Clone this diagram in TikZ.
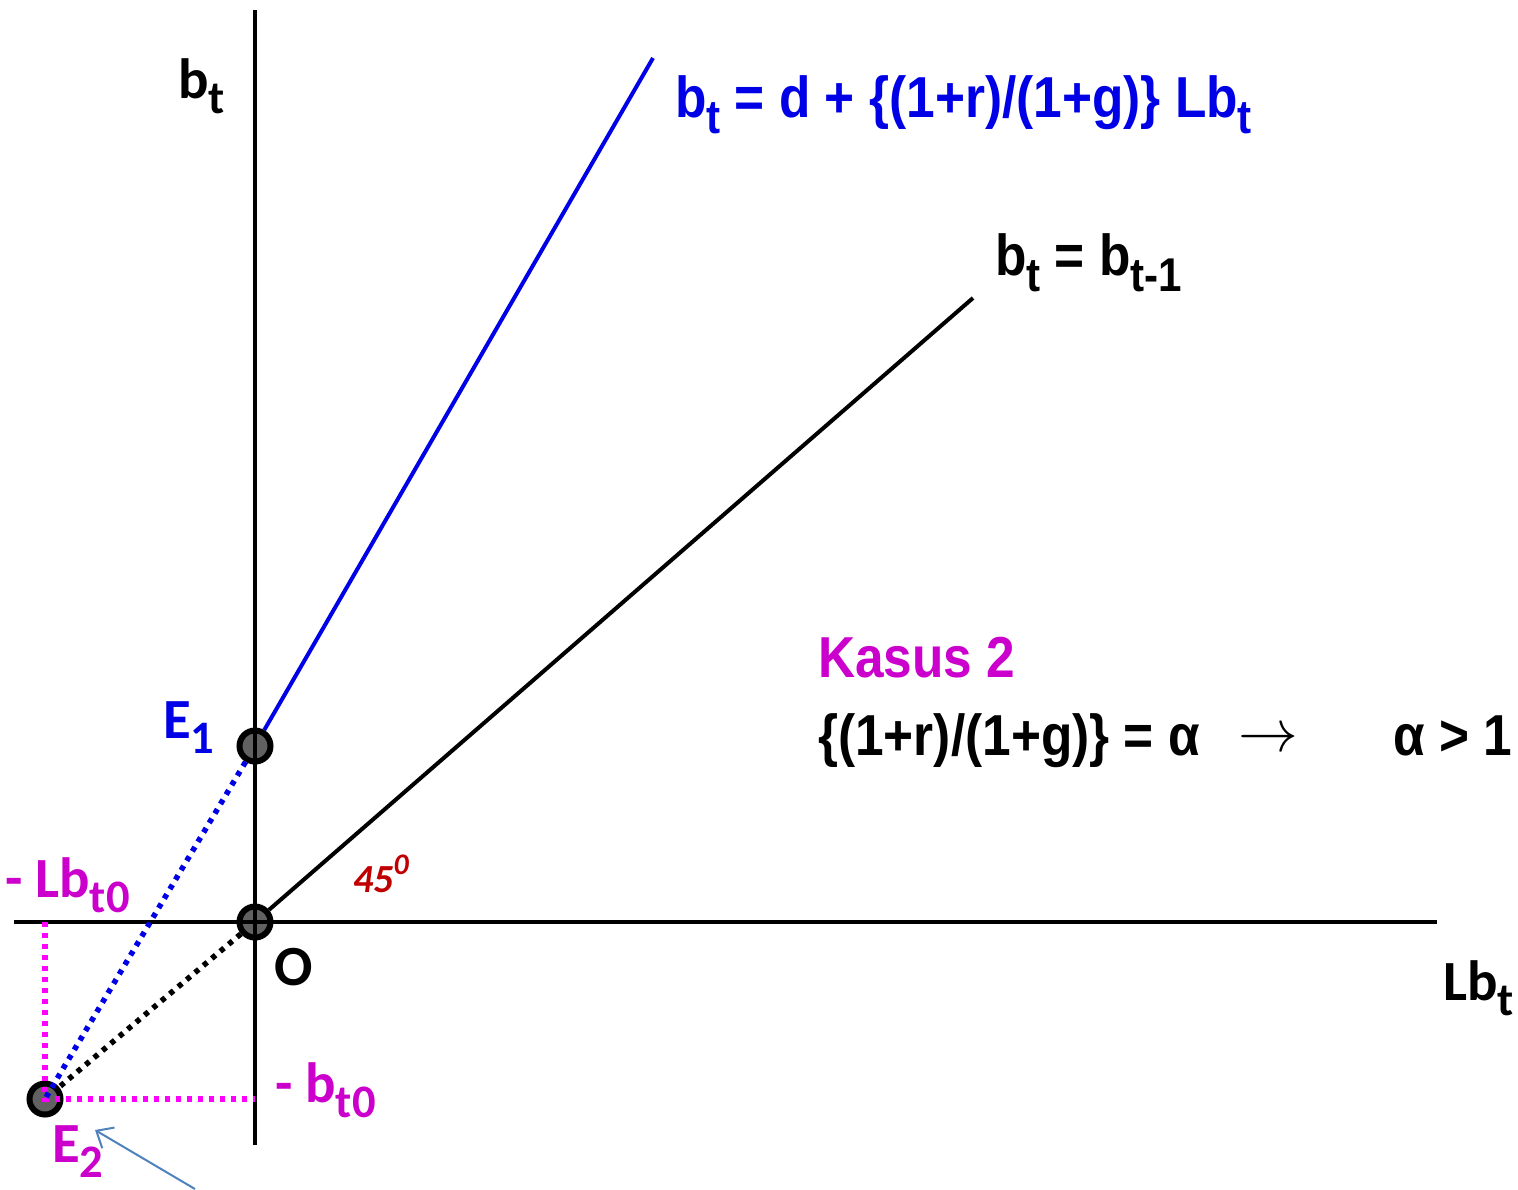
\documentclass[tikz,border=0pt]{standalone}
\usepackage{fontspec}
\setmainfont{Carlito}
\newfontfamily\narrow{Liberation Sans}[FakeStretch=0.89]
\usetikzlibrary{arrows.meta}
\definecolor{eqblue}{RGB}{0,0,230}
\definecolor{mag}{RGB}{204,0,204}
\definecolor{dotmag}{RGB}{255,0,255}
\definecolor{dred}{RGB}{192,0,0}
\definecolor{arrblue}{RGB}{79,129,189}
\newcommand\dn[1]{\raisebox{-0.28em}{\scalebox{0.82}{#1}}}
\tikzset{
  lbl/.style={anchor=base west, inner sep=0pt, font=\bfseries\fontsize{57}{62}\selectfont},
  eqn/.style={anchor=base west, inner sep=0pt, font=\narrow\bfseries\fontsize{58}{64}\selectfont},
  pt/.style={circle, draw=black, line width=6bp, fill=black!62, minimum size=31bp, inner sep=0pt},
  axis/.style={line width=4bp, black},
  dotl/.style={line width=5.5bp, dash pattern=on 5bp off 6bp},
}
\begin{document}
\begin{tikzpicture}[x=1bp,y=-1bp]
\useasboundingbox (0,0) rectangle (1518,1189);
% coordinates
\coordinate (ytop) at (255,10);
\coordinate (ybot) at (255,1145);
\coordinate (xl) at (14,922);
\coordinate (xr) at (1437,922);
\coordinate (bluetop) at (653,58);
\coordinate (blacktop) at (973,298);
\coordinate (Lfoot) at (45,922);
\coordinate (bfoot) at (255,1099);
% dots
\node[pt] (E1) at (255,746) {};
\node[pt] (O) at (255,922) {};
\node[pt] (E2) at (45,1099) {};
% axes
\draw[axis] (ytop) -- (ybot);
\draw[axis] (xl) -- (xr);
% lines
\draw[line width=4bp, black] (O) -- (blacktop);
\draw[dotl, black] (O) -- (E2);
\draw[dotl, dotmag] (Lfoot) -- (E2.center) -- (bfoot);
\draw[dotl, eqblue] (E1) -- (E2.center);
\draw[line width=4bp, eqblue] (E1) -- (bluetop);
% arrow
\coordinate (arrtail) at (195,1189);
\coordinate (arrhead) at (95,1130);
\draw[arrblue, line width=2bp, -{Straight Barb[length=14bp,width=24bp]}] (arrtail) -- (arrhead);
% labels
\node[lbl] (lbt) at (178,98) {b\dn{t}};
\node[lbl, text=eqblue] (lE1) at (163,738) {E\dn{1}};
\node[lbl, text=mag] (lLb0) at (5,897) {- Lb\dn{t0}};
\node[lbl] (lO) at (274,985) {O};
\node[anchor=base west, inner sep=0pt, text=dred, font=\bfseries\itshape\fontsize{40}{44}\selectfont] (l45) at (353,892) {45\raisebox{0.45em}{\scalebox{0.75}{0}}};
\node[lbl, text=mag] (lb0) at (275,1102) {- b\dn{t0}};
\node[lbl, text=mag] (lE2) at (52,1162) {E\dn{2}};
\node[lbl] (lLbt) at (1443,1000) {Lb\dn{t}};
\node[eqn, text=eqblue] (eq1) at (675,117) {b\dn{t} = d + \{(1+r)/(1+g)\} Lb\dn{t}};
\node[eqn] (eq2) at (995,275) {b\dn{t} = b\dn{t-1}};
\node[eqn, text=mag] (kasus) at (818,677) {Kasus 2};
\node[eqn] (eq3) at (818,755) {\{(1+r)/(1+g)\} = α};
\node[anchor=base west, inner sep=0pt] (arr) at (1238,751) {\scalebox{6}{$\rightarrow$}};
\node[eqn] (eq4) at (1393,755) {α > 1};
\end{tikzpicture}
\end{document}
